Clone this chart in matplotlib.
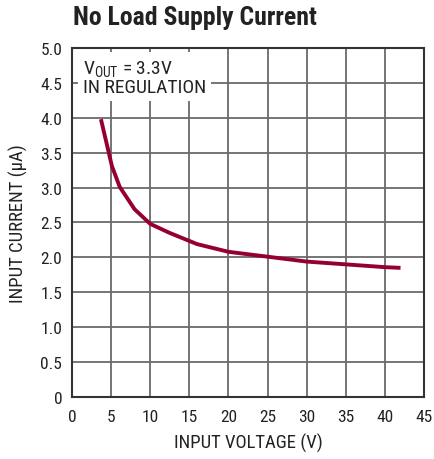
import matplotlib
matplotlib.use("Agg")
import matplotlib.pyplot as plt
from matplotlib import font_manager

names = {f.name for f in font_manager.fontManager.ttflist}
for cand in ['Roboto Condensed', 'Archivo Narrow', 'PT Sans Narrow', 'Liberation Sans']:
    if cand in names:
        break
plt.rcParams['font.family'] = [cand, 'DejaVu Sans']
plt.rcParams['mathtext.fontset'] = 'custom'
plt.rcParams['mathtext.rm'] = cand

input_voltage = [3.7, 5.1, 6.1, 8.0, 10.0, 12.5, 16.0, 20.0, 25.0, 30.0, 35.0, 40.0, 42.0]
input_current = [3.98, 3.31, 3.01, 2.69, 2.48, 2.35, 2.19, 2.08, 2.01, 1.94, 1.90, 1.86, 1.85]
x_ticks = [0, 5, 10, 15, 20, 25, 30, 35, 40, 45]
y_ticks = [0, 0.5, 1.0, 1.5, 2.0, 2.5, 3.0, 3.5, 4.0, 4.5, 5.0]
y_tick_labels = ['0', '0.5', '1.0', '1.5', '2.0', '2.5', '3.0', '3.5', '4.0', '4.5', '5.0']

fig = plt.figure(figsize=(4.35, 4.6), dpi=100)
ax = fig.add_axes([0.1655, 0.1348, 0.8092, 0.7587])
ax.plot(input_voltage, input_current, color='#960030', lw=2.8, solid_capstyle='butt', zorder=3)
ax.set_xlim(0, 45)
ax.set_ylim(0, 5)
ax.set_xticks(x_ticks)
ax.set_yticks(y_ticks)
ax.set_yticklabels(y_tick_labels)
ax.grid(True, color='#6a6a6a', lw=1.3)
ax.tick_params(length=0, labelsize=12.5, colors='#222222')
ax.tick_params(axis='x', pad=9)
ax.tick_params(axis='y', pad=7)
for s in ax.spines.values():
    s.set_color('#333333')
    s.set_linewidth(1.5)
ax.set_xlabel('INPUT VOLTAGE (V)', fontsize=13.5, color='#222222', labelpad=6)
ax.set_ylabel('INPUT CURRENT (µA)', fontsize=13.5, color='#222222', labelpad=9)
fig.text(0.168, 0.96, 'No Load Supply Current', fontsize=18.5, fontweight='bold', color='#222222', va='center', ha='left')
ax.text(1.45, 4.58, r'V$_{\mathregular{OUT}}$ = 3.3V' + '\nIN REGULATION', fontsize=14, color='#222222',
        va='center', ha='left', linespacing=0.95,
        bbox=dict(boxstyle='square,pad=0.25', fc='white', ec='none'), zorder=4)
fig.savefig('out.png', dpi=100)
